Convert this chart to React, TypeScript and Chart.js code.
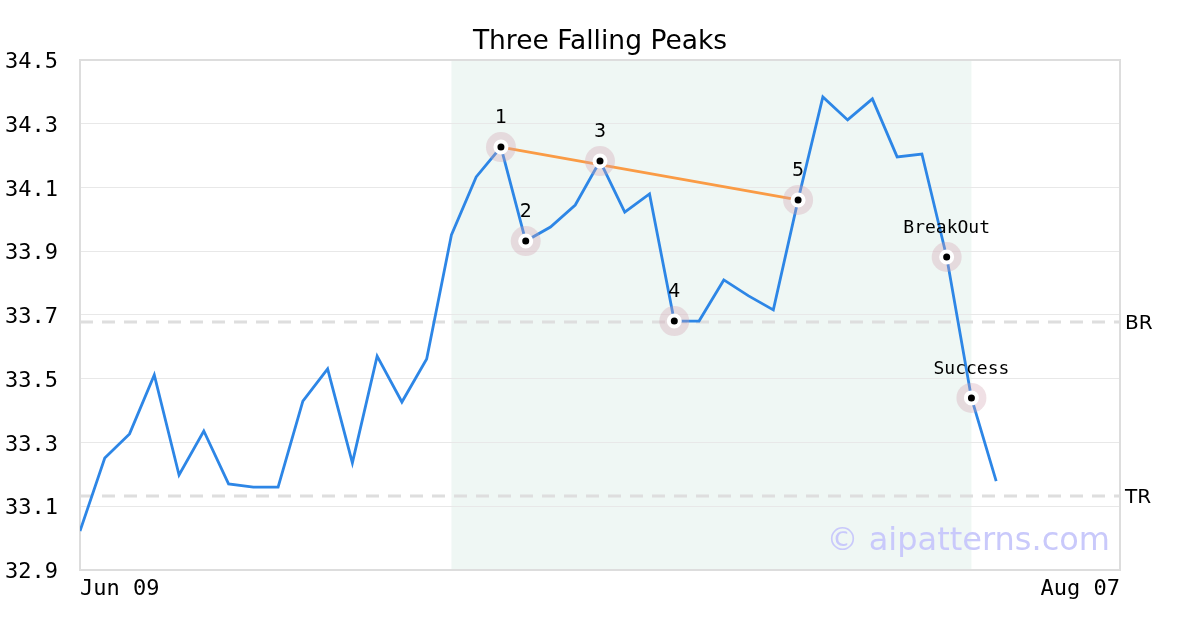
import React, { useEffect, useRef } from "react";
import { Chart, registerables } from "chart.js";

Chart.register(...registerables);

const title = "Three Falling Peaks";
const xTickLabels = ["Jun 09", "Aug 07"];
const xMax = 42;
const closes = [
  33.022, 33.251, 33.327, 33.512, 33.198, 33.336, 33.17, 33.16, 33.16, 33.43,
  33.531, 33.236, 33.571, 33.427, 33.562, 33.951, 34.133, 34.227, 33.932, 33.976,
  34.045, 34.183, 34.023, 34.08, 33.681, 33.681, 33.81, 33.76, 33.716, 34.061,
  34.384, 34.312, 34.378, 34.196, 34.205, 33.882, 33.44, 33.179,
];
const yTicks = [32.9, 33.1, 33.3, 33.5, 33.7, 33.9, 34.1, 34.3, 34.5];
const markerIdx = [17, 18, 21, 24, 29, 35, 36];
const markerLabels = ["1", "2", "3", "4", "5", "BreakOut", "Success"];
const trendIdx = [17, 29];
const patternRange = [15, 36];
const levelNames = ["BR", "TR"];
const levelValues = [33.678, 33.132];
const watermark = "© aipatterns.com";

export default function App() {
  const ref = useRef<HTMLCanvasElement | null>(null);

  useEffect(() => {
    if (!ref.current) return;
    const ctx = ref.current.getContext("2d")!;

    const bgPlugin = {
      id: "bg",
      beforeDraw(chart: any) {
        const { ctx, chartArea, scales } = chart;
        const x0 = scales.x.getPixelForValue(patternRange[0]);
        const x1 = scales.x.getPixelForValue(patternRange[1]);
        ctx.save();
        ctx.fillStyle = "#eff7f4";
        ctx.fillRect(x0, chartArea.top, x1 - x0, chartArea.bottom - chartArea.top);
        ctx.restore();
      },
      beforeDatasetsDraw(chart: any) {
        const { ctx, chartArea, scales } = chart;
        ctx.save();
        ctx.strokeStyle = "#dedede";
        ctx.lineWidth = 3;
        ctx.setLineDash([13, 9]);
        levelValues.forEach((v) => {
          const y = scales.y.getPixelForValue(v);
          ctx.beginPath();
          ctx.moveTo(chartArea.left, y);
          ctx.lineTo(chartArea.right, y);
          ctx.stroke();
        });
        ctx.setLineDash([]);
        ctx.fillStyle = "#000";
        ctx.font = "20px 'DejaVu Sans'";
        ctx.textAlign = "left";
        ctx.textBaseline = "middle";
        levelValues.forEach((v, i) => {
          const y = scales.y.getPixelForValue(v);
          ctx.fillText(levelNames[i], chartArea.right + 5, y + 1.5);
        });
        ctx.fillStyle = "#c9c9fb";
        ctx.font = "32px 'DejaVu Sans'";
        ctx.textAlign = "right";
        ctx.fillText(watermark, chartArea.right - 10, chartArea.bottom - 28);
        ctx.strokeStyle = "#dddddd";
        ctx.lineWidth = 2;
        ctx.strokeRect(chartArea.left, chartArea.top, chartArea.right - chartArea.left, chartArea.bottom - chartArea.top);
        ctx.restore();
      },
      afterDatasetsDraw(chart: any) {
        const { ctx, scales } = chart;
        ctx.save();
        ctx.fillStyle = "#000";
        ctx.textAlign = "center";
        ctx.textBaseline = "middle";
        markerIdx.forEach((idx, i) => {
          const lab = markerLabels[i];
          const x = scales.x.getPixelForValue(idx);
          const y = scales.y.getPixelForValue(closes[idx]);
          ctx.font = lab.length > 1 ? "18px 'DejaVu Sans Mono'" : "19px 'DejaVu Sans'";
          ctx.fillText(lab, x, y - 29);
        });
        ctx.restore();
      },
    };

    const lineData = closes.map((y, i) => ({ x: i, y }));
    const markerData = markerIdx.map((i) => ({ x: i, y: closes[i] }));
    const trendData = trendIdx.map((i) => ({ x: i, y: closes[i] }));

    const chart = new Chart(ctx, {
      type: "line",
      data: {
        datasets: [
          {
            data: markerData,
            showLine: false,
            pointRadius: 5.5,
            pointBorderWidth: 4,
            pointBackgroundColor: "#000",
            pointBorderColor: "#fff",
            order: 0,
          } as any,
          {
            data: markerData,
            showLine: false,
            pointRadius: 15,
            pointBorderWidth: 0,
            pointBackgroundColor: "rgba(210,160,175,0.33)",
            pointBorderColor: "rgba(0,0,0,0)",
            order: 1,
          } as any,
          {
            data: trendData,
            borderColor: "#fa9b45",
            borderWidth: 2.8,
            pointRadius: 0,
            order: 2,
          },
          {
            data: lineData,
            borderColor: "#2d86e6",
            borderWidth: 2.8,
            pointRadius: 0,
            tension: 0,
            order: 3,
          },
        ],
      },
      options: {
        animation: false,
        responsive: false,
        layout: { padding: 0 },
        plugins: {
          legend: { display: false },
          tooltip: { enabled: false },
          title: {
            display: true,
            text: title,
            color: "#000",
            font: { family: "'DejaVu Sans'", size: 26.5, weight: "normal" },
            padding: { top: 26, bottom: 2.2 },
          },
        },
        scales: {
          x: {
            type: "linear",
            min: 0,
            max: xMax,
            grid: { display: false, drawTicks: false },
            border: { display: false },
            afterBuildTicks(axis: any) {
              axis.ticks = [{ value: 0 }, { value: xMax }];
            },
            afterFit(axis: any) {
              axis.height = 60;
            },
            ticks: {
              align: "inner",
              padding: 6,
              maxRotation: 0,
              color: "#000",
              font: { family: "'DejaVu Sans Mono'", size: 22 },
              callback: (v: any) => (v === 0 ? xTickLabels[0] : xTickLabels[1]),
            },
          },
          y: {
            min: 32.9,
            max: 34.5,
            grid: { color: "#e8e8e8", lineWidth: 1, drawTicks: false },
            border: { display: false },
            afterBuildTicks(axis: any) {
              axis.ticks = yTicks.map((v) => ({ value: v }));
            },
            afterFit(axis: any) {
              axis.width = 80;
            },
            ticks: {
              padding: 22,
              labelOffset: 2.5,
              color: "#000",
              font: { family: "'DejaVu Sans Mono'", size: 22 },
              callback: (v: any) => Number(v).toFixed(1),
            },
          },
          yRight: {
            position: "right",
            min: 0,
            max: 1,
            grid: { display: false, drawTicks: false },
            border: { display: false },
            ticks: { display: false },
            afterFit(axis: any) {
              axis.width = 80;
            },
          },
        },
      } as any,
      plugins: [bgPlugin],
    });

    return () => chart.destroy();
  }, []);

  return (
    <div style={{ position: "fixed", left: 0, top: 0, width: 1200, height: 630, background: "#fff" }}>
      <canvas ref={ref} width={1200} height={630} style={{ display: "block" }} />
    </div>
  );
}
